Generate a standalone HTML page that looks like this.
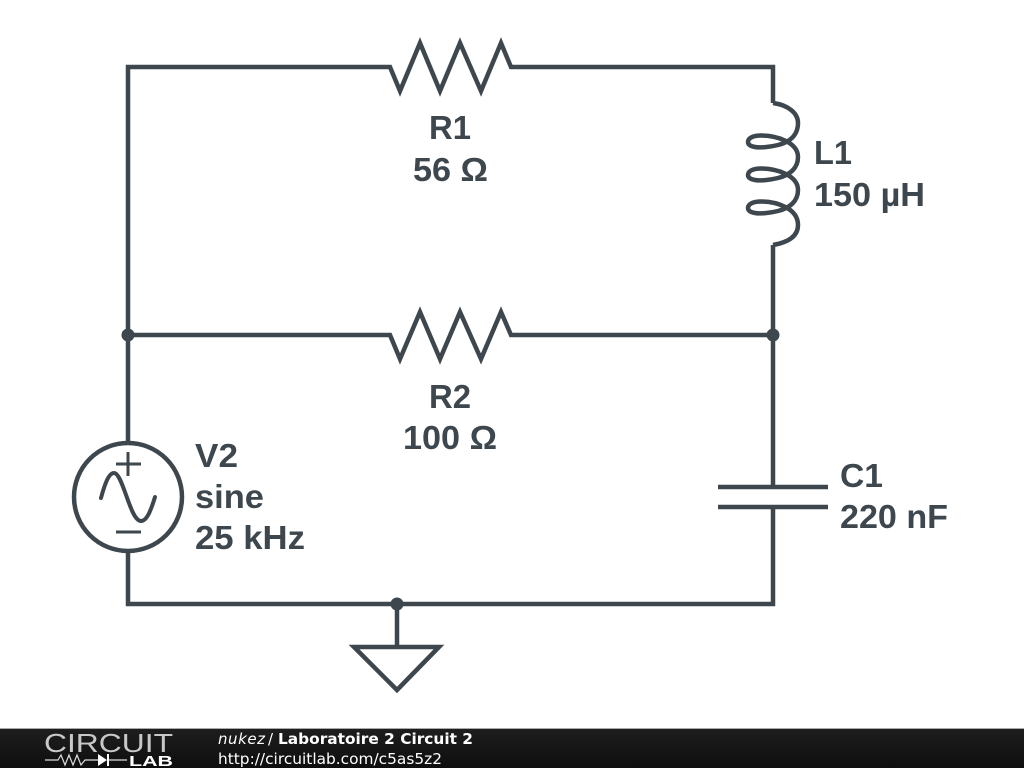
<!DOCTYPE html>
<html><head><meta charset="utf-8">
<style>
html,body{margin:0;padding:0;background:#fff}
svg{display:block}
.t{font-family:"Liberation Sans",sans-serif;font-weight:700;font-size:33.5px;fill:#3d474d}
.f{font-family:"DejaVu Sans",sans-serif;font-size:15px;fill:#fff}
</style></head><body>
<svg width="1024" height="768" viewBox="0 0 1024 768" xmlns="http://www.w3.org/2000/svg">
<defs><linearGradient id="g" x1="0" y1="0" x2="0" y2="1"><stop offset="0" stop-color="#1e1e1e"/><stop offset="1" stop-color="#0e0e0e"/></linearGradient></defs>
<g fill="none" stroke="#3d474d" stroke-width="4.5" stroke-linejoin="miter">
<path d="M773 103V67H511L501 43 481 91 460 43 440 91 420 43 400 91 390 67H128V442"/>
<path d="M128 335H390L400 359 420 312 440 359 460 312 481 359 501 312 511 335H773"/>
<path d="M773 245V335M773 335V487M773 507V604H128V552"/>
<path d="M397 604V647"/>
<path d="M397 647H439L397 690 354 647Z"/>
<path d="M718 487H828M718 507H828"/>
<circle cx="128" cy="497" r="54"/>
<path d="M773 103C788 105 798 113 798 123C798 135 790 142 778 145C770 147 760 148 755 147C749 146 748 144 748 142C748 138 753 135.500 761 135.500C776 135.500 798 142 798 157C798 168 790 175 778 178C770 180 760 181 755 180C749 179 748 177 748 175C748 171 753 168.500 761 168.500C776 168.500 798 175 798 190C798 201 790 208 778 211C770 213 760 214 755 213C749 212 748 210 748 208C748 204 753 201.500 761 201.500C776 201.500 798 208 798 225C798 235 790 242 773 245"/>
</g>
<g fill="none" stroke="#3d474d" stroke-width="3.5" stroke-linecap="round">
<path d="M101 498C105 483 109 473 114 473C123 473 130 521 141 521C147 521 151 510 155 497" stroke-width="4"/>
<path d="M116 464H141M128 452V476M116 532H141" stroke-linecap="butt" stroke-width="3"/>
</g>
<g fill="#3d474d"><circle cx="128" cy="335" r="6.500"/><circle cx="773" cy="335" r="6.500"/><circle cx="397" cy="604" r="6.500"/></g>
<text class="t" x="429" y="139" textLength="42" lengthAdjust="spacingAndGlyphs">R1</text>
<text class="t" x="413" y="181" textLength="75" lengthAdjust="spacingAndGlyphs">56 Ω</text>
<text class="t" x="429" y="408" textLength="42" lengthAdjust="spacingAndGlyphs">R2</text>
<text class="t" x="403" y="449" textLength="94" lengthAdjust="spacingAndGlyphs">100 Ω</text>
<text class="t" x="814" y="164" textLength="38" lengthAdjust="spacingAndGlyphs">L1</text>
<text class="t" x="814" y="206" textLength="111" lengthAdjust="spacingAndGlyphs">150 µH</text>
<text class="t" x="195" y="467" textLength="43" lengthAdjust="spacingAndGlyphs">V2</text>
<text class="t" x="195" y="508" textLength="69" lengthAdjust="spacingAndGlyphs">sine</text>
<text class="t" x="195" y="549" textLength="110" lengthAdjust="spacingAndGlyphs">25 kHz</text>
<text class="t" x="840" y="487" textLength="43" lengthAdjust="spacingAndGlyphs">C1</text>
<text class="t" x="840" y="528" textLength="108" lengthAdjust="spacingAndGlyphs">220 nF</text>
<rect x="0" y="728" width="1024" height="1" fill="#aaa"/>
<rect x="0" y="729" width="1024" height="39" fill="url(#g)"/>
<text x="44" y="752" font-family="Liberation Sans,sans-serif" font-size="26" fill="#c8c8c8" textLength="129" lengthAdjust="spacingAndGlyphs">CIRCUIT</text>
<path d="M45 760H58L61 755 65 765 69 755 73 765 77 755 81 765 85 760H99M108 760H127" fill="none" stroke="#ddd" stroke-width="1.2"/>
<path d="M98 754L107 760 98 766Z M107 754H109V766H107Z" fill="#fff"/>
<text x="129" y="766" font-family="Liberation Sans,sans-serif" font-size="14.500" font-weight="700" fill="#fff" textLength="44" lengthAdjust="spacingAndGlyphs">LAB</text>
<text class="f" x="218" y="744" font-style="italic" textLength="47">nukez</text>
<text class="f" x="268" y="744">/</text>
<text class="f" x="278" y="744" font-weight="700" textLength="195" lengthAdjust="spacingAndGlyphs">Laboratoire 2 Circuit 2</text>
<text class="f" x="218" y="764" textLength="224" lengthAdjust="spacingAndGlyphs">http://circuitlab.com/c5as5z2</text>
</svg>
</body></html>
